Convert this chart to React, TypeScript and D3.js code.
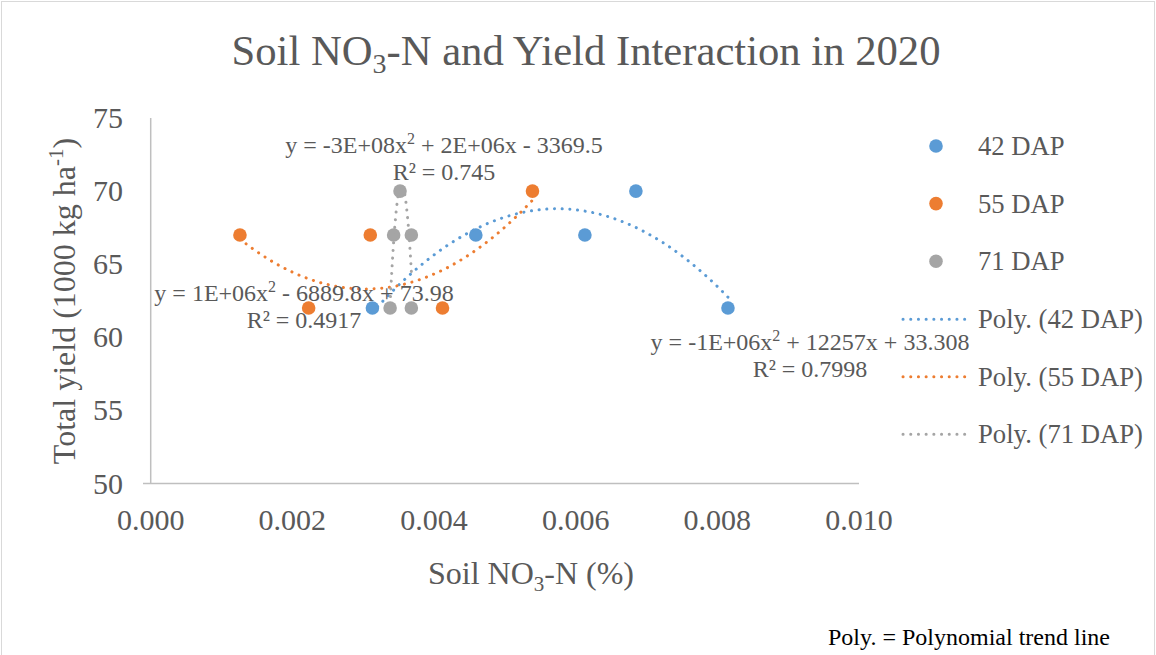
import React from "react";
import * as d3 from "d3";

const SERIES_NAMES = ["42 DAP", "55 DAP", "71 DAP"];
const COLORS = ["#5B9BD5", "#ED7D31", "#A5A5A5"];

// soil NO3-N (%) and total yield (1000 kg/ha) per sampling date
const NO3_42 = [0.00313, 0.00459, 0.00613, 0.00685, 0.00815];
const YIELD_42 = [62, 67, 67, 70, 62];
const NO3_55 = [0.00126, 0.00223, 0.0031, 0.00412, 0.00539];
const YIELD_55 = [67, 62, 67, 62, 70];
const NO3_71 = [0.00338, 0.00343, 0.00352, 0.00368, 0.00368];
const YIELD_71 = [62, 67, 70, 67, 62];

const EQUATIONS = [
  ["-1E+06x", " + 12257x + 33.308"],
  ["1E+06x", " - 6889.8x + 73.98"],
  ["-3E+08x", " + 2E+06x - 3369.5"],
];
const R2_LABELS = ["R² = 0.7998", "R² = 0.4917", "R² = 0.745"];

const X_TICKS = [0, 0.002, 0.004, 0.006, 0.008, 0.01];
const Y_TICKS = [50, 55, 60, 65, 70, 75];

const W = 1156;
const H = 655;
const FONT = "'Liberation Serif', 'Times New Roman', serif";
const TEXT = "#595959";

// least squares quadratic, as the spreadsheet trendline does
function fitQuadratic(xs: number[], ys: number[]) {
  const u = xs.map((v) => v * 1000);
  const s = (p: number) => d3.sum(u, (v) => Math.pow(v, p));
  const sy = (p: number) => d3.sum(u, (v, i) => Math.pow(v, p) * ys[i]);
  const m = [
    [s(0), s(1), s(2), sy(0)],
    [s(1), s(2), s(3), sy(1)],
    [s(2), s(3), s(4), sy(2)],
  ];
  for (let c = 0; c < 3; c++) {
    for (let r = c + 1; r < 3; r++) {
      const f = m[r][c] / m[c][c];
      for (let k = c; k < 4; k++) m[r][k] -= f * m[c][k];
    }
  }
  const coef = [0, 0, 0];
  for (let r = 2; r >= 0; r--) {
    let v = m[r][3];
    for (let k = r + 1; k < 3; k++) v -= m[r][k] * coef[k];
    coef[r] = v / m[r][r];
  }
  return (x: number) => {
    const t = x * 1000;
    return coef[0] + coef[1] * t + coef[2] * t * t;
  };
}

export default function App() {
  const x = d3.scaleLinear().domain([0, 0.01]).range([150.7, 859]);
  const y = d3.scaleLinear().domain([50, 75]).range([483.5, 118]);

  const series = [
    { xs: NO3_42, ys: YIELD_42 },
    { xs: NO3_55, ys: YIELD_55 },
    { xs: NO3_71, ys: YIELD_71 },
  ];

  const line = d3
    .line<[number, number]>()
    .x((d) => x(d[0]))
    .y((d) => y(d[1]));

  const trends = series.map((s) => {
    const f = fitQuadratic(s.xs, s.ys);
    const [lo, hi] = d3.extent(s.xs) as [number, number];
    const pts = d3.range(0, 121).map((i) => {
      const v = lo + ((hi - lo) * i) / 120;
      return [v, f(v)] as [number, number];
    });
    return line(pts) || "";
  });

  // equation label anchors (centre x, baseline y)
  const eqPos = [
    [810, 350],
    [304, 301],
    [444, 153],
  ];

  const dotted = {
    strokeWidth: 3,
    strokeDasharray: "0.1 7.6",
    strokeLinecap: "round" as const,
    fill: "none",
  };

  return (
    <svg
      width={W}
      height={H}
      style={{ position: "absolute", left: 0, top: 0, fontFamily: FONT }}
    >
      <rect x={0} y={0} width={W} height={H} fill="#fff" />
      <rect x={1.5} y={1.5} width={W - 3} height={H + 10} fill="none" stroke="#D9D9D9" strokeWidth={1} />

      {/* title */}
      <text x={586} y={65} textAnchor="middle" fontSize={42.67} fill={TEXT}>
        Soil NO<tspan fontSize={28} dy={8}>3</tspan>
        <tspan dy={-8}>-N and Yield Interaction in 2020</tspan>
      </text>

      {/* axes */}
      <line x1={150.7} x2={150.7} y1={118} y2={483.5} stroke="#BFBFBF" strokeWidth={1.5} />
      <line x1={143} x2={859} y1={483.5} y2={483.5} stroke="#BFBFBF" strokeWidth={1.5} />

      {Y_TICKS.map((t) => (
        <text key={t} x={123} y={y(t) + 10} textAnchor="end" fontSize={30} fill={TEXT}>
          {t}
        </text>
      ))}
      {X_TICKS.map((t) => (
        <text key={t} x={x(t)} y={530} textAnchor="middle" fontSize={30} fill={TEXT}>
          {d3.format(".3f")(t)}
        </text>
      ))}

      {/* axis titles */}
      <text x={531} y={584} textAnchor="middle" fontSize={32} fill={TEXT}>
        Soil NO<tspan fontSize={21} dy={7}>3</tspan>
        <tspan dy={-7}>-N (%)</tspan>
      </text>
      <text
        transform="translate(75,301) rotate(-90)"
        textAnchor="middle"
        fontSize={32}
        fill={TEXT}
      >
        Total yield (1000 kg ha<tspan fontSize={21} dy={-12}>-1</tspan>
        <tspan dy={12}>)</tspan>
      </text>

      {/* markers */}
      {series.map((s, si) =>
        s.xs.map((v, i) => (
          <circle key={`${si}-${i}`} cx={x(v)} cy={y(s.ys[i])} r={6.8} fill={COLORS[si]} />
        ))
      )}

      {/* trendlines */}
      {trends.map((d, i) => (
        <path key={i} d={d} stroke={COLORS[i]} {...dotted} />
      ))}

      {/* trendline equations */}
      {EQUATIONS.map((eq, i) => (
        <g key={i} fill={TEXT} fontSize={24}>
          <text x={eqPos[i][0]} y={eqPos[i][1]} textAnchor="middle">
            y = {eq[0]}
            <tspan fontSize={16} dy={-9}>2</tspan>
            <tspan dy={9}>{eq[1]}</tspan>
          </text>
          <text x={eqPos[i][0]} y={eqPos[i][1] + 26.7} textAnchor="middle">
            {R2_LABELS[i]}
          </text>
        </g>
      ))}

      {/* legend */}
      {SERIES_NAMES.map((name, i) => (
        <g key={name} transform={`translate(0,${146 + i * 57.6})`}>
          <circle cx={936} cy={0} r={6.8} fill={COLORS[i]} />
          <text x={978} y={9} fontSize={26.67} fill={TEXT}>
            {name}
          </text>
        </g>
      ))}
      {SERIES_NAMES.map((name, i) => (
        <g key={`p-${name}`} transform={`translate(0,${319.3 + i * 57.5})`}>
          <line x1={903} x2={970} y1={0} y2={0} stroke={COLORS[i]} {...dotted} />
          <text x={978} y={9} fontSize={26.67} fill={TEXT}>
            Poly. ({name})
          </text>
        </g>
      ))}

      <text x={828} y={645} fontSize={24} fill="#000">
        Poly. = Polynomial trend line
      </text>
    </svg>
  );
}
